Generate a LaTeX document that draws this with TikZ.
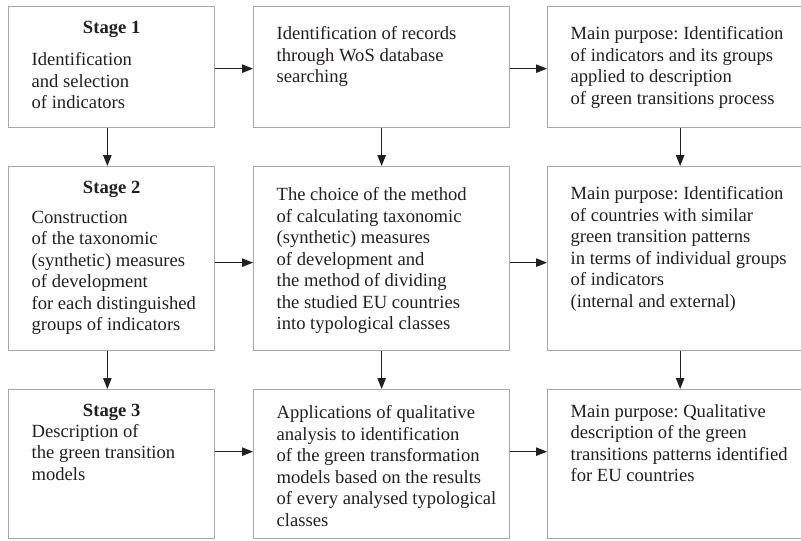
\documentclass[tikz,border=0pt]{standalone}
\usepackage{fontspec}
\setmainfont{Liberation Serif}
\usetikzlibrary{
  arrows.meta,
  positioning,
}
\definecolor{boxgray}{RGB}{168,168,168}
\definecolor{inkgray}{RGB}{35,31,32}
\tikzset{
  >={Triangle[length=11pt,width=8.5pt]},
  box/.style={draw=boxgray, line width=1.3pt, inner sep=0pt, anchor=north west, text=inkgray},
  stagelbl/.style={anchor=base, yshift=-27pt, font=\fontsize{18.6}{21.5}\selectfont\bfseries, text=inkgray},
  flow/.style={->, draw=inkgray, line width=1pt},
}
% height, width, first baseline, lines
\newcommand{\celltext}[4]{\parbox[t][#1][t]{#2}{\raggedright\frenchspacing\leftskip=23pt\rule{0pt}{#3}#4}}

\begin{document}
\begin{tikzpicture}[x=1pt, y=-1pt, font=\fontsize{18.6}{21.5}\selectfont]
  \useasboundingbox (0,0) rectangle (801,541);
  \clip (0,0) rectangle (801,541);

  % row 1
  \node[box, label={[stagelbl]north:Stage 1}] (st1) at (8,6)
    {\celltext{121pt}{206pt}{59pt}{Identification\\and selection\\of indicators}};
  \node[box] (rec) at (253,6)
    {\celltext{121pt}{256pt}{33.3pt}{Identification of records\\through WoS database\\searching}};
  \node[box] (aim1) at (547,6)
    {\celltext{121pt}{265pt}{33.3pt}{Main purpose: Identification\\of indicators and its groups\\applied to description\\of green transitions process}};

  % row 2
  \node[box, label={[stagelbl]north:Stage 2}] (st2) at (8,166)
    {\celltext{184pt}{206pt}{56.7pt}{Construction\\of the taxonomic\\(synthetic) measures\\of development\\for each distinguished\\groups of indicators}};
  \node[box] (meth) at (253,166)
    {\celltext{184pt}{256pt}{34pt}{The choice of the method\\of calculating taxonomic\\(synthetic) measures\\of development and\\the method of dividing\\the studied EU countries\\into typological classes}};
  \node[box] (aim2) at (547,166)
    {\celltext{184pt}{265pt}{33.3pt}{Main purpose: Identification\\of countries with similar\\green transition patterns\\in terms of individual groups\\of indicators\\(internal and external)}};

  % row 3
  \node[box, label={[stagelbl]north:Stage 3}] (st3) at (8,389)
    {\celltext{149pt}{206pt}{47.7pt}{Description of\\the green transition\\models}};
  \node[box] (qual) at (253,389)
    {\celltext{149pt}{256pt}{29.3pt}{Applications of qualitative\\analysis to identification\\of the green transformation\\models based on the results\\of every analysed typological\\classes}};
  \node[box] (aim3) at (547,389)
    {\celltext{149pt}{265pt}{27.7pt}{Main purpose: Qualitative\\description of the green\\transitions patterns identified\\for EU countries}};

  % arrows
  \foreach \a/\b/\s in {st1/rec/-1.5, rec/aim1/-1.5, st2/meth/-4, meth/aim2/-4, st3/qual/12.5, qual/aim3/12.5}
    \draw[flow] ([yshift=\s pt]\a.east) -- ([yshift=\s pt]\b.west);
  \foreach \a/\b/\s in {st1/st2/-4.3, st2/st3/-4.3, rec/meth/0, meth/qual/0, aim1/aim2/0, aim2/aim3/0}
    \draw[flow] ([xshift=\s pt]\a.south) -- ([xshift=\s pt]\b.north);
\end{tikzpicture}
\end{document}
